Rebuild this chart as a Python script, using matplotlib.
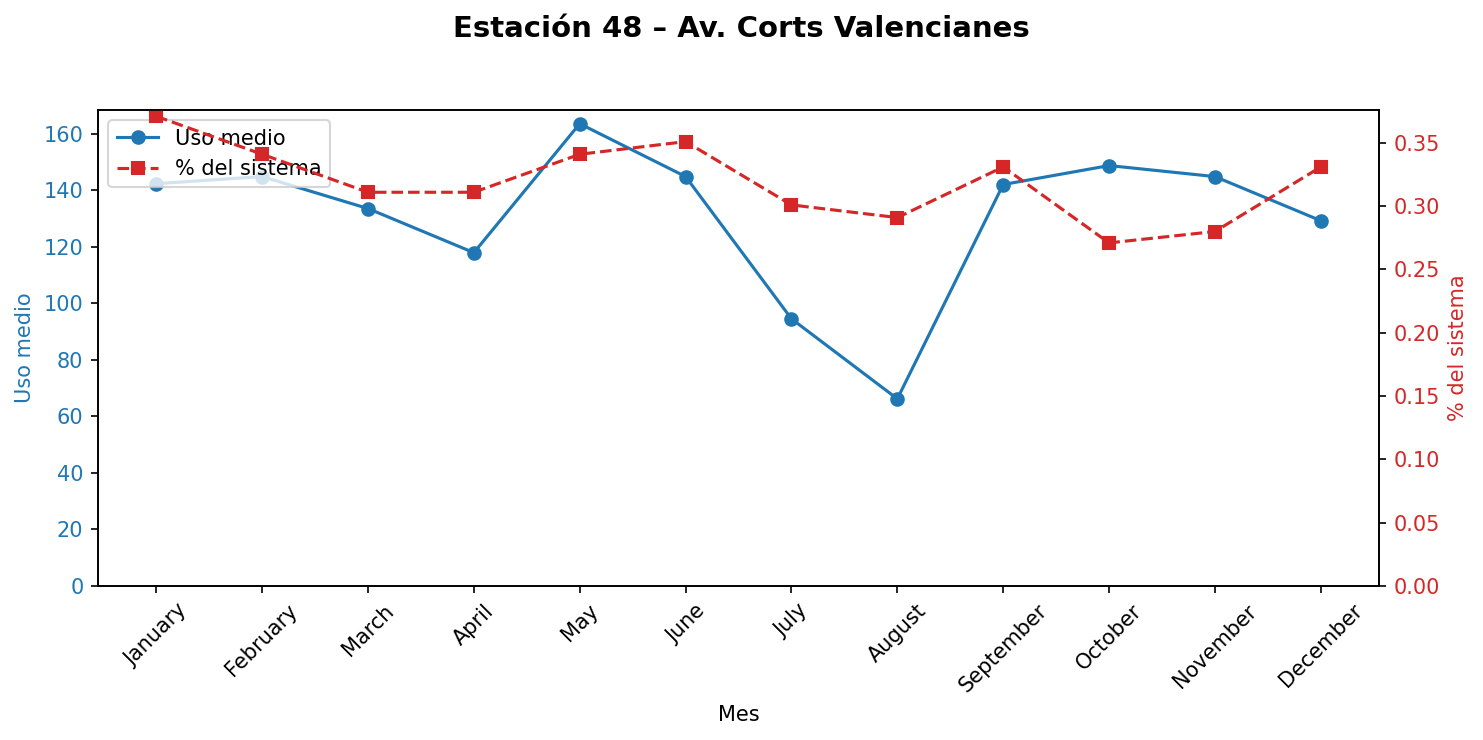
import matplotlib.pyplot as plt
import numpy as np

# Monthly data for station 48
meses = ["January", "February", "March", "April", "May", "June",
         "July", "August", "September", "October", "November", "December"]
uso_medio = [142.3, 144.8, 133.5, 117.9, 163.5, 144.8,
             94.5, 66.2, 142.0, 148.7, 144.8, 129.2]
pct_sistema = [0.371, 0.341, 0.311, 0.311, 0.341, 0.351,
               0.301, 0.291, 0.331, 0.271, 0.280, 0.331]

x = np.arange(len(meses))

fig, ax1 = plt.subplots(figsize=(1483 / 150, 740 / 150), dpi=150)
fig.subplots_adjust(left=0.0661, right=0.9299, top=0.8514, bottom=0.2081)

l1, = ax1.plot(x, uso_medio, color="tab:blue", marker="o", label="Uso medio")
ax1.set_ylim(bottom=0)
ax1.set_ylabel("Uso medio", color="tab:blue")
ax1.tick_params(axis="y", labelcolor="tab:blue")
ax1.set_xlabel("Mes")
ax1.set_xticks(x)
ax1.set_xticklabels(meses, rotation=45)

ax2 = ax1.twinx()
l2, = ax2.plot(x, pct_sistema, color="tab:red", marker="s", linestyle="--",
               label="% del sistema")
ax2.set_ylim(bottom=0)
ax2.set_ylabel("% del sistema", color="tab:red")
ax2.tick_params(axis="y", labelcolor="tab:red")

ax1.legend([l1, l2], [l1.get_label(), l2.get_label()], loc="upper left")

fig.suptitle("Estación 48 – Av. Corts Valencianes", fontsize=14, fontweight="bold")

fig.savefig("out.png", dpi=150)
